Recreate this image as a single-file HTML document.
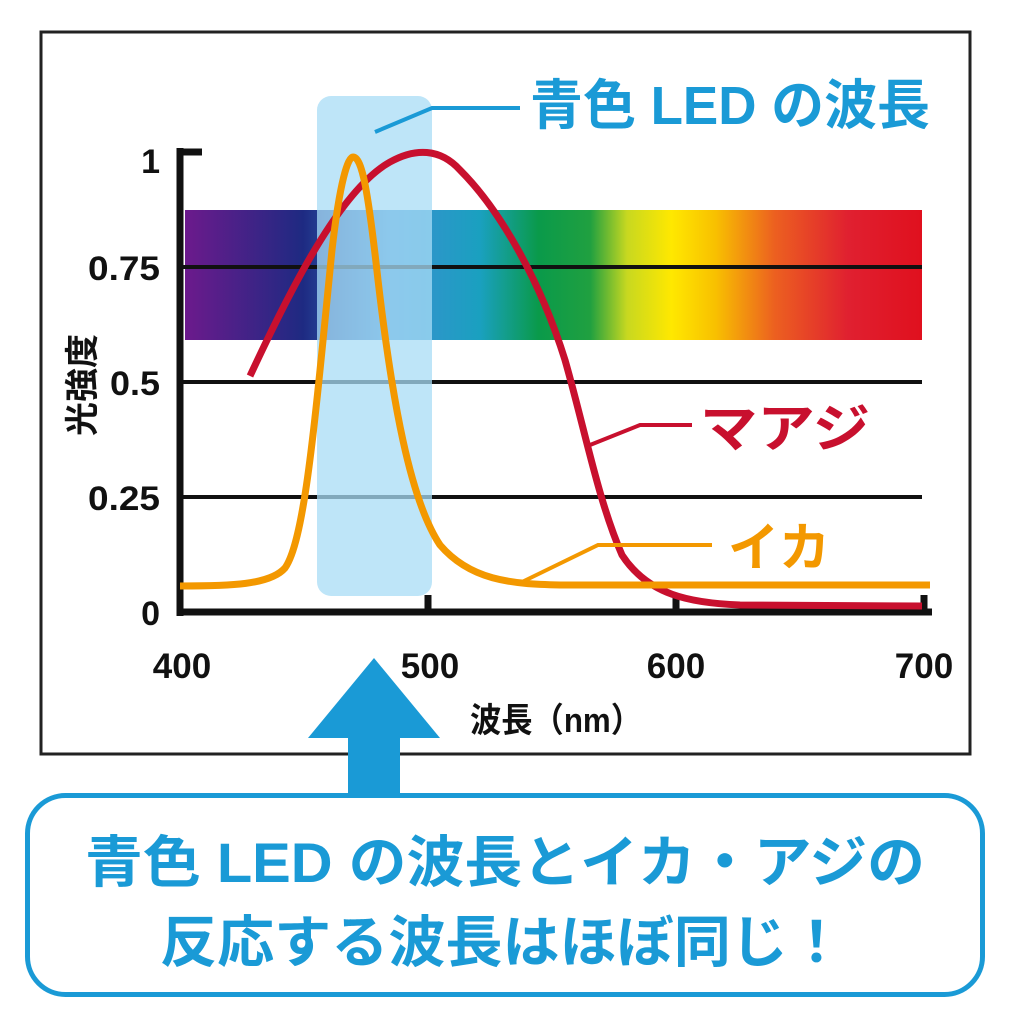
<!DOCTYPE html>
<html><head><meta charset="utf-8"><style>
html,body{margin:0;padding:0;background:#fff;}
svg{display:block;}
text{font-family:"Liberation Sans","Noto Sans CJK JP",sans-serif;font-weight:bold;}
</style></head><body>
<svg width="1012" height="1024" viewBox="0 0 1012 1024" xmlns="http://www.w3.org/2000/svg">
<defs>
<linearGradient id="sp" x1="185" x2="922" y1="0" y2="0" gradientUnits="userSpaceOnUse">
<stop offset="0" stop-color="#6c1a8c"/>
<stop offset="0.16" stop-color="#1e2a82"/>
<stop offset="0.28" stop-color="#3a8fd0"/>
<stop offset="0.4" stop-color="#1aa0c0"/>
<stop offset="0.48" stop-color="#0a9a4a"/>
<stop offset="0.55" stop-color="#20a040"/>
<stop offset="0.6" stop-color="#c8d820"/>
<stop offset="0.66" stop-color="#ffe800"/>
<stop offset="0.72" stop-color="#f8c000"/>
<stop offset="0.8" stop-color="#ec6020"/>
<stop offset="0.9" stop-color="#e02030"/>
<stop offset="1" stop-color="#e0101e"/>
</linearGradient>
</defs>
<rect x="41" y="32" width="929" height="722" fill="#fff" stroke="#222" stroke-width="3"/>
<rect x="185" y="210" width="737" height="130" fill="url(#sp)"/>
<g stroke="#111" stroke-width="4">
<line x1="180" y1="267" x2="922" y2="267"/>
<line x1="180" y1="382" x2="922" y2="382"/>
<line x1="180" y1="497" x2="922" y2="497"/>
</g>
<rect x="317" y="96" width="115" height="500" rx="14" fill="#a8dcf5" fill-opacity="0.75"/>
<g stroke="#111" stroke-width="7" fill="none">
<line x1="180" y1="148" x2="180" y2="616"/>
<line x1="177" y1="612" x2="932" y2="612"/>
<line x1="180" y1="152" x2="202" y2="152"/>
<line x1="428" y1="612" x2="428" y2="595"/>
<line x1="676" y1="612" x2="676" y2="595"/>
<line x1="924" y1="612" x2="924" y2="595"/>
</g>
<path d="M250,376 C290,290 340,190 390,162 C415,148 440,148 460,170 C500,210 540,280 565,360 C585,430 598,500 622,555 C648,595 690,603 740,605 L922,606" fill="none" stroke="#c8102e" stroke-width="7"/>
<path d="M180,586 C230,586 270,585 285,568 C305,540 315,420 332,250 C340,180 348,157 353,157 C362,157 368,190 378,280 C392,400 410,500 440,545 C470,580 510,584 560,585 L930,585" fill="none" stroke="#f39800" stroke-width="7"/>
<polyline points="375,132 432,108 520,108" fill="none" stroke="#1a9ad6" stroke-width="4"/>
<polyline points="590,445 640,425 692,425" fill="none" stroke="#c8102e" stroke-width="4"/>
<polyline points="522,582 598,545 712,545" fill="none" stroke="#f39800" stroke-width="4"/>
<text x="530" y="124" font-size="54" fill="#1a9ad6" textLength="400" lengthAdjust="spacingAndGlyphs">青色 LED の波長</text>
<text x="700" y="447" font-size="52" fill="#c8102e" textLength="170" lengthAdjust="spacingAndGlyphs">マアジ</text>
<text x="728" y="566" font-size="52" fill="#f39800" textLength="102" lengthAdjust="spacingAndGlyphs">イカ</text>
<g font-size="34" fill="#111" text-anchor="end">
<text x="160" y="173">1</text>
<text x="160" y="280" textLength="72" lengthAdjust="spacingAndGlyphs">0.75</text>
<text x="160" y="395" textLength="50" lengthAdjust="spacingAndGlyphs">0.5</text>
<text x="160" y="510" textLength="72" lengthAdjust="spacingAndGlyphs">0.25</text>
<text x="160" y="625">0</text>
</g>
<g font-size="35" fill="#111" text-anchor="middle">
<text x="182" y="678">400</text>
<text x="430" y="678">500</text>
<text x="676" y="678">600</text>
<text x="924" y="678">700</text>
</g>
<text x="470" y="732" font-size="34" fill="#111" textLength="172" lengthAdjust="spacingAndGlyphs">波長（nm）</text>
<text transform="translate(94,385) rotate(-90)" font-size="34" fill="#111" text-anchor="middle">光強度</text>
<polygon points="308,738 440,738 374,658" fill="#1a9ad6"/>
<rect x="348" y="736" width="52" height="64" fill="#1a9ad6"/>
<rect x="27.5" y="795.5" width="955" height="199" rx="38" fill="#fff" stroke="#1a9ad6" stroke-width="5"/>
<g font-size="56" fill="#1a9ad6" font-weight="normal">
<text x="85" y="882" textLength="840" lengthAdjust="spacingAndGlyphs">青色 LED の波長とイカ・アジの</text>
<text x="160" y="962" textLength="685" lengthAdjust="spacingAndGlyphs">反応する波長はほぼ同じ！</text>
</g>
</svg>
</body></html>
